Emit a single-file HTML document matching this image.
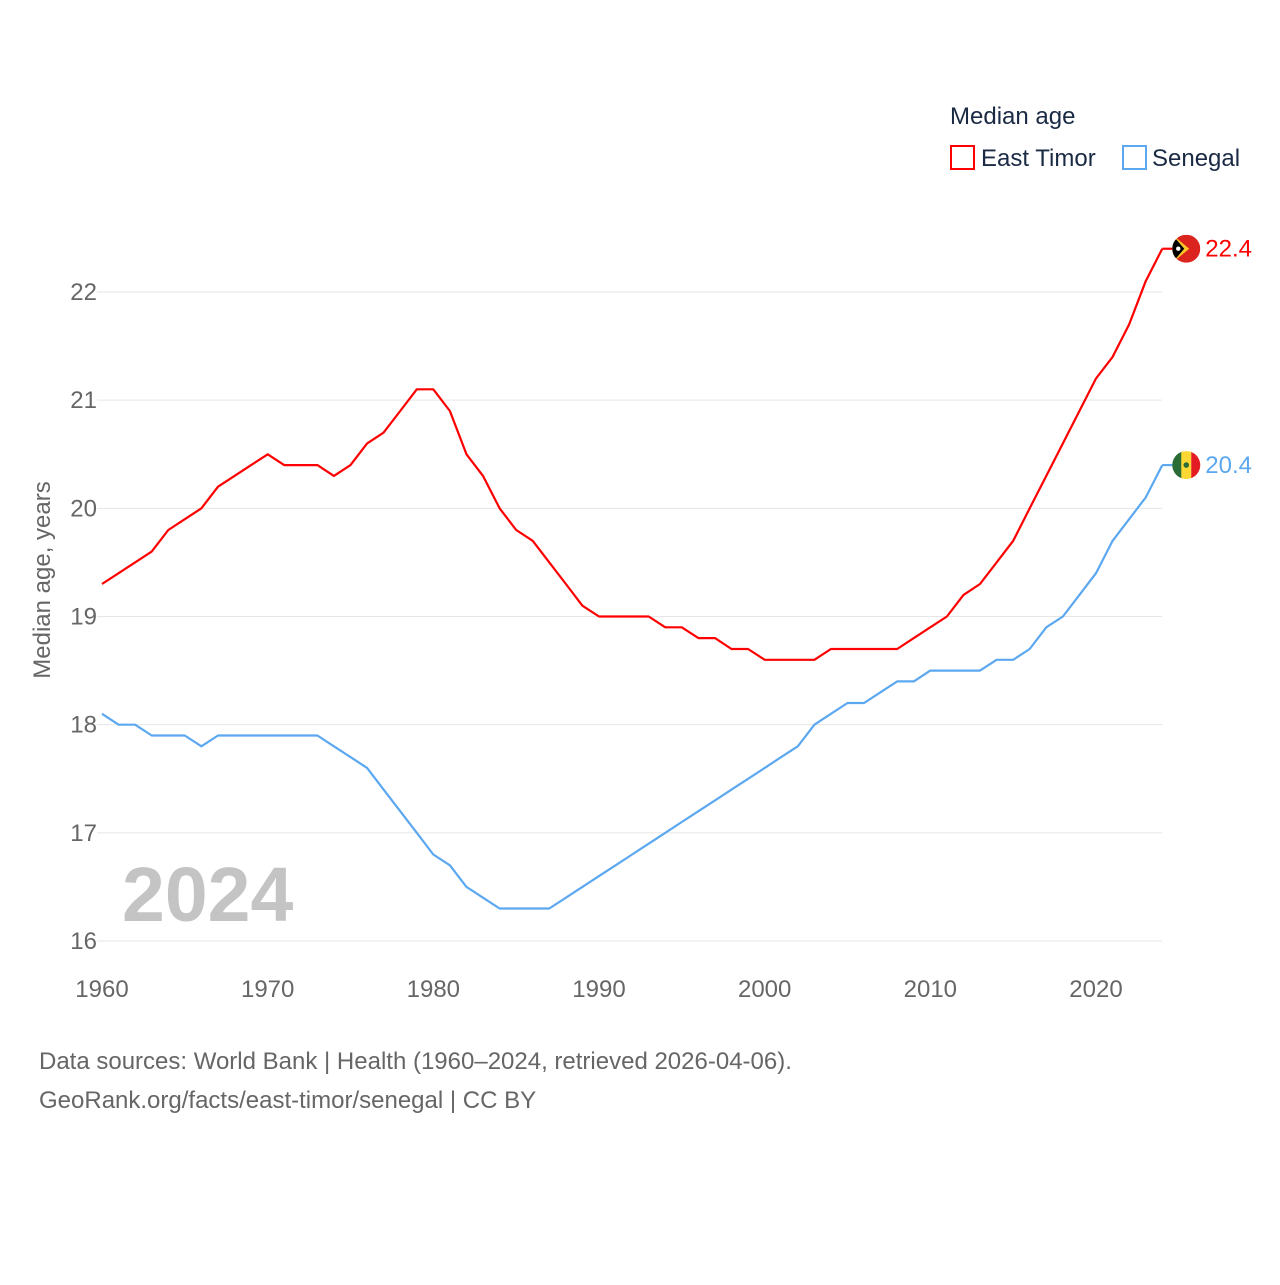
<!DOCTYPE html>
<html><head><meta charset="utf-8"><style>
html,body{margin:0;padding:0;background:#fff;}
body{width:1280px;height:1280px;overflow:hidden;font-family:"Liberation Sans",sans-serif;}
</style></head><body>
<svg id="chart" width="1280" height="1280" xmlns="http://www.w3.org/2000/svg" font-family="Liberation Sans, sans-serif">
  <defs id="defs"></defs>
  <g id="grid"></g>
  <g id="yticks"></g>
  <g id="xticks"></g>
  <text x="50" y="580" transform="rotate(-90 50 580)" text-anchor="middle" font-size="24" fill="#666">Median age, years</text>
  <text x="122" y="921" font-size="77" font-weight="bold" fill="#c4c4c4">2024</text>
  <g id="series"></g>
  <g>
    <text x="950" y="124" font-size="24" fill="#1a2a44">Median age</text>
    <rect x="951" y="146" width="23" height="23" fill="none" stroke="#ff0000" stroke-width="2"/>
    <text x="981" y="166" font-size="24" fill="#1a2a44">East Timor</text>
    <rect x="1123" y="146" width="23" height="23" fill="none" stroke="#5ca8f0" stroke-width="2"/>
    <text x="1152" y="166" font-size="24" fill="#1a2a44">Senegal</text>
  </g>
  <text x="39" y="1069" font-size="24" fill="#666">Data sources: World Bank | Health (1960–2024, retrieved 2026-04-06).</text>
  <text x="39" y="1108" font-size="24" fill="#666">GeoRank.org/facts/east-timor/senegal | CC BY</text>
</svg>
<script>
const years = [];
for (let y = 1960; y <= 2024; y++) years.push(y);
const eastTimor = [19.3,19.4,19.5,19.6,19.8,19.9,20.0,20.2,20.3,20.4,20.5,20.4,20.4,20.4,20.3,20.4,20.6,20.7,20.9,21.1,21.1,20.9,20.5,20.3,20.0,19.8,19.7,19.5,19.3,19.1,19.0,19.0,19.0,19.0,18.9,18.9,18.8,18.8,18.7,18.7,18.6,18.6,18.6,18.6,18.7,18.7,18.7,18.7,18.7,18.8,18.9,19.0,19.2,19.3,19.5,19.7,20.0,20.3,20.6,20.9,21.2,21.4,21.7,22.1,22.4];
const senegal = [18.1,18.0,18.0,17.9,17.9,17.9,17.8,17.9,17.9,17.9,17.9,17.9,17.9,17.9,17.8,17.7,17.6,17.4,17.2,17.0,16.8,16.7,16.5,16.4,16.3,16.3,16.3,16.3,16.4,16.5,16.6,16.7,16.8,16.9,17.0,17.1,17.2,17.3,17.4,17.5,17.6,17.7,17.8,18.0,18.1,18.2,18.2,18.3,18.4,18.4,18.5,18.5,18.5,18.5,18.6,18.6,18.7,18.9,19.0,19.2,19.4,19.7,19.9,20.1,20.4];
const yTicks = [16,17,18,19,20,21,22];
const xTicks = [1960,1970,1980,1990,2000,2010,2020];

const NS = "http://www.w3.org/2000/svg";
const xScale = v => 102 + (v - 1960) * (1096 - 102) / 60;
const yScale = v => 941 - (v - 16) * (941 - 292) / 6;
function mk(tag, attrs, parent){const e=document.createElementNS(NS,tag);for(const k in attrs)e.setAttribute(k,attrs[k]);parent.appendChild(e);return e;}

const grid = document.getElementById('grid'), yt = document.getElementById('yticks'), xt = document.getElementById('xticks');
yTicks.forEach(v=>{
  const l = mk('line',{x1:97,x2:1162,y1:yScale(v),y2:yScale(v),stroke:'#e6e6e6','stroke-width':1},grid);
  
  
  const t = mk('text',{x:97,y:yScale(v)+8,'text-anchor':'end','font-size':24,fill:'#666'},yt);
  t.textContent = v;
  
  
});
xTicks.forEach(v=>{
  const t = mk('text',{x:xScale(v),y:997,'text-anchor':'middle','font-size':24,fill:'#666'},xt);
  t.textContent = v;
  
  
});

const series = document.getElementById('series');
const defs = document.getElementById('defs');
function drawLine(vals, color, name){
  const pts = vals.map((v,i)=>xScale(years[i]).toFixed(1)+','+yScale(v).toFixed(1)).join(' ');
  const p = mk('polyline',{points:pts,fill:'none',stroke:color,'stroke-width':2.2,'stroke-linejoin':'round'},series);
  
  
  const last = vals[vals.length-1];
  const ex = xScale(years[years.length-1]), ey = yScale(last);
  const h = mk('line',{x1:ex,x2:ex+12,y1:ey,y2:ey,stroke:color,'stroke-width':2.2},series);
  
  
  const cp = mk('clipPath',{id:'clip-'+name},defs);
  mk('circle',{cx:ex+24,cy:ey,r:14},cp);
  const g = mk('g',{'clip-path':'url(#clip-'+name+')'},series);
  
  
  const t = mk('text',{x:ex+43,y:ey+8,'font-size':24,fill:color},series);
  t.textContent = last.toFixed(1);
  
  
  return {ex,ey,g};
}
const et = drawLine(eastTimor,'#ff0000','east-timor');
const sn = drawLine(senegal,'#5ca8f0','senegal');
// flag details
mk('rect',{x:et.ex+10,y:et.ey-14,width:28,height:28,fill:'#dc241f'},et.g);
mk('polygon',{points:`${et.ex+10},${et.ey-14} ${et.ex+27},${et.ey} ${et.ex+10},${et.ey+14}`,fill:'#ffc726'},et.g);
mk('polygon',{points:`${et.ex+10},${et.ey-14} ${et.ex+22},${et.ey} ${et.ex+10},${et.ey+14}`,fill:'#000'},et.g);
mk('circle',{cx:et.ex+16,cy:et.ey,r:2.2,fill:'#fff'},et.g);
mk('rect',{x:sn.ex+10,y:sn.ey-14,width:10,height:28,fill:'#2a6b36'},sn.g);
mk('rect',{x:sn.ex+19,y:sn.ey-14,width:10,height:28,fill:'#fdd835'},sn.g);
mk('rect',{x:sn.ex+29,y:sn.ey-14,width:10,height:28,fill:'#e31b23'},sn.g);
mk('circle',{cx:sn.ex+24,cy:sn.ey,r:2.8,fill:'#2a6b36'},sn.g);
</script>
</body></html>
